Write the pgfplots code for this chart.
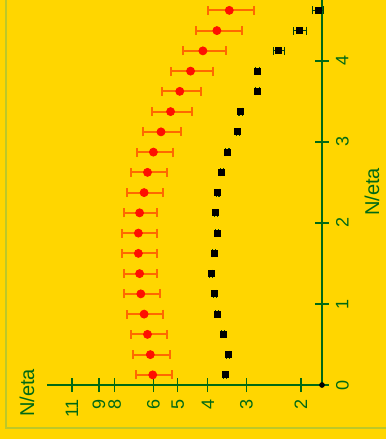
\documentclass[border=0pt]{standalone}
\usepackage{fontspec}
\setmainfont{Liberation Sans}
\usepackage{pgfplots}
\usepackage{pgfplotstable}
\pgfplotsset{compat=1.18}
\definecolor{bg}{RGB}{255,214,0}
\definecolor{axgreen}{RGB}{0,105,20}
\definecolor{frm}{RGB}{190,200,40}
\definecolor{errorange}{RGB}{255,105,0}
\definecolor{mred}{RGB}{255,15,0}

\pgfplotstableread{
n v e
0.125 6.03 0.80
0.375 6.14 0.83
0.625 6.27 0.835
0.875 6.43 0.857
1.125 6.59 0.88
1.375 6.65 0.82
1.625 6.71 0.885
1.875 6.71 0.885
2.125 6.65 0.82
2.375 6.43 0.857
2.625 6.27 0.835
2.875 6.00 0.80
3.125 5.67 0.80
3.375 5.28 0.77
3.625 4.93 0.71
3.875 4.55 0.71
4.125 4.15 0.655
4.375 3.74 0.63
4.625 3.41 0.575
}\redtab

\pgfplotstableread{
n v e
0.125 3.52 0.04
0.375 3.44 0.04
0.625 3.57 0.04
0.875 3.73 0.04
1.125 3.80 0.04
1.375 3.91 0.04
1.625 3.82 0.04
1.875 3.73 0.04
2.125 3.77 0.04
2.375 3.72 0.04
2.625 3.61 0.04
2.875 3.46 0.04
3.125 3.20 0.04
3.375 3.13 0.04
3.625 2.77 0.04
3.875 2.77 0.04
4.125 2.36 0.10
4.375 2.02 0.10
4.625 1.76 0.07
}\blacktab

\begin{document}
\begin{tikzpicture}[x=1pt,y=1pt]
\fill[bg] (-161,-27) rectangle (32,192.5);
\draw[frm, line width=0.6pt] (-158,192.5) -- (-158,-21.5) -- (32,-21.5);
\begin{axis}[
  at={(0,0)}, anchor=south east,
  scale only axis, width=137.5pt, height=192.5pt,
  xmode=log, x dir=reverse,
  xmin=1.71, xmax=13.25, ymin=0, ymax=4.753,
  axis x line=bottom, axis y line=right,
  axis line style={axgreen, line width=0.7pt, -},
  every outer x axis line/.append style={-},
  every outer y axis line/.append style={-},
  xtick={2,3,4,5,6,8,9,11}, xticklabels={2,3,4,5,6,8,9,11},
  ytick={0,1,2,3,4}, yticklabels={0,1,2,3,4},
  xminorticks=false, yminorticks=false,
  tick align=center, major tick length=7pt,
  tick style={axgreen, line width=0.6pt},
  every tick label/.append style={font=\fontsize{9}{10}\selectfont, text=axgreen},
  xticklabel style={rotate=90, anchor=east},
  yticklabel style={rotate=90, anchor=north},
  clip=false,
]
\addplot[only marks, mark=*, mark size=2pt, mark options={draw=mred, fill=mred},
  error bars/.cd, x dir=both, x explicit, error mark=|,
  error bar style={errorange, line width=1pt},
  error mark options={errorange, mark size=2.3pt, line width=1pt}]
  table[x=v, y=n, x error=e] {\redtab};
\addplot[only marks, mark=square*, mark size=1.5pt, mark options={draw=black, fill=black},
  error bars/.cd, x dir=both, x explicit, error mark=|,
  error bar style={axgreen!60!black, line width=0.6pt},
  error mark options={axgreen!60!black, mark size=2pt, line width=0.6pt}]
  table[x=v, y=n, x error=e] {\blacktab};
\addplot[only marks, mark=*, mark size=1.2pt, black] coordinates {(1.71,0)};
\end{axis}
\node[rotate=90, text=axgreen, font=\fontsize{10}{12}\selectfont] at (-147.5,-4) {N/eta};
\node[rotate=90, text=axgreen, font=\fontsize{10}{12}\selectfont] at (25,96.5) {N/eta};
\pgfresetboundingbox
\path[use as bounding box] (-161,-27) rectangle (32,192.5);
\end{tikzpicture}
\end{document}
